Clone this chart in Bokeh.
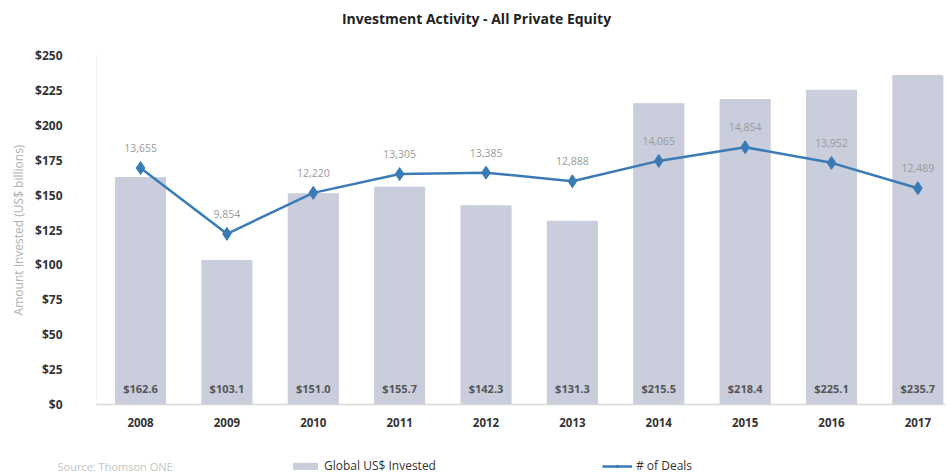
from bokeh.plotting import figure
from bokeh.models import (Range1d, FixedTicker, NumeralTickFormatter, Label, Legend,
                          LegendItem, ColumnDataSource)
from bokeh.layouts import column, row
from bokeh.core.properties import value
from bokeh.embed import file_html
from bokeh.resources import INLINE

years = [2008, 2009, 2010, 2011, 2012, 2013, 2014, 2015, 2016, 2017]
invested = [162.6, 103.1, 151.0, 155.7, 142.3, 131.3, 215.5, 218.4, 225.1, 235.7]
deals = [13655, 9854, 12220, 13305, 13385, 12888, 14065, 14854, 13952, 12489]
invested_labels = ["$162.6", "$103.1", "$151.0", "$155.7", "$142.3", "$131.3",
                   "$215.5", "$218.4", "$225.1", "$235.7"]
deal_labels = ["13,655", "9,854", "12,220", "13,305", "13,385", "12,888",
               "14,065", "14,854", "13,952", "12,489"]
y_ticks = [0, 25, 50, 75, 100, 125, 150, 175, 200, 225, 250]

FONT = "Open Sans"
BAR = "#c9cddc"
LINE = "#3b7bb5"
L, FW, R = 96, 849, 6
W = L + FW + R

# header strip with the title (data units == canvas pixels)
HH = 45
h = figure(frame_width=FW, frame_height=HH, output_backend="svg",
           toolbar_location=None, x_range=Range1d(L, L + FW), y_range=Range1d(0, HH),
           min_border_left=L, min_border_right=R, min_border_top=0, min_border_bottom=0,
           x_axis_location=None, y_axis_location=None, outline_line_color=None)
h.grid.visible = False
h.add_layout(Label(x=476, y=HH - 18, text="Investment Activity - All Private Equity",
                   text_align="center", text_baseline="middle", text_font=FONT,
                   text_font_size="14px", text_font_style="bold", text_color="#222222"))

src = ColumnDataSource(dict(x=years, inv=invested, deals=deals,
                            inv_lab=invested_labels, deal_lab=deal_labels,
                            zero=[0] * len(years)))

p = figure(frame_width=FW, frame_height=349, output_backend="svg", toolbar_location=None,
           x_range=Range1d(2007.49, 2017.32), y_range=Range1d(0, 250),
           min_border_left=L, min_border_right=R, min_border_top=10,
           min_border_bottom=32, outline_line_color=None)
p.extra_y_ranges = {"deals": Range1d(0, 20150)}

p.xgrid.visible = False
p.ygrid.visible = False

p.vbar(x="x", top="inv", width=0.58, source=src, color=BAR)
p.line(x="x", y="deals", source=src, y_range_name="deals", color=LINE, line_width=2.5)
p.scatter(x="x", y="deals", source=src, y_range_name="deals", marker="diamond",
          size=13, color=LINE)

p.text(x="x", y="deals", text="deal_lab", source=src, y_range_name="deals",
       y_offset=-20, text_align="center", text_baseline="middle",
       text_font=value(FONT), text_font_size="10.5px", text_color="#9a9a9a")
p.text(x="x", y="zero", text="inv_lab", source=src, y_offset=-16,
       text_align="center", text_baseline="middle", text_font=value(FONT),
       text_font_size="11px", text_font_style="bold", text_color="#555555")

# axes
p.yaxis.ticker = FixedTicker(ticks=y_ticks)
p.yaxis.formatter = NumeralTickFormatter(format="$0")
p.yaxis.major_tick_line_color = None
p.yaxis.minor_tick_line_color = None
p.yaxis.axis_line_color = "#e4e4e4"
p.yaxis.axis_line_dash = "2 2"
p.yaxis.major_label_standoff = 28
p.yaxis.major_label_text_font = FONT
p.yaxis.major_label_text_font_size = "12px"
p.yaxis.major_label_text_font_style = "bold"
p.yaxis.major_label_text_color = "#333333"
p.yaxis.axis_label = "Amount Invested (US$ billions)"
p.yaxis.axis_label_text_font = FONT
p.yaxis.axis_label_text_font_size = "12px"
p.yaxis.axis_label_text_font_style = "normal"
p.yaxis.axis_label_text_color = "#b0b0b0"
p.yaxis.axis_label_standoff = 5

p.xaxis.ticker = FixedTicker(ticks=years)
p.xaxis.major_tick_line_color = None
p.xaxis.minor_tick_line_color = None
p.xaxis.axis_line_color = "#d8d8d8"
p.xaxis.axis_line_width = 1.5
p.xaxis.major_label_standoff = 7
p.xaxis.major_label_text_font = FONT
p.xaxis.major_label_text_font_size = "11.5px"
p.xaxis.major_label_text_font_style = "bold"
p.xaxis.major_label_text_color = "#333333"

# footer strip: source note and legend, full-width frame (data units == pixels)
H2 = 39
f = figure(frame_width=W, frame_height=H2, output_backend="svg", toolbar_location=None,
           x_range=Range1d(0, W), y_range=Range1d(0, H2), min_border=0,
           x_axis_location=None, y_axis_location=None, outline_line_color=None)
f.grid.visible = False

legend_src = ColumnDataSource(dict(x=[-1000], y=[-1000], top=[-1000]))
r_bar = f.vbar(x="x", top="top", width=1, source=legend_src, color=BAR)
r_line = f.line(x="x", y="y", source=legend_src, color=LINE, line_width=2.5)
r_mk = f.scatter(x="x", y="y", source=legend_src, marker="diamond", size=9, color=LINE)

f.add_layout(Label(x=57, y=9, text="Source: Thomson ONE", text_align="left",
                   text_baseline="middle", text_font=FONT, text_font_size="11px",
                   text_color="#c4c4c4"))

legend = Legend(items=[LegendItem(label="Global US$ Invested", renderers=[r_bar]),
                       LegendItem(label="# of Deals", renderers=[r_line, r_mk])],
                orientation="horizontal", location=(290, 1), padding=0, margin=0,
                spacing=166, glyph_width=30, glyph_height=8, label_standoff=4,
                label_height=14, label_text_font=FONT, label_text_font_size="12px",
                label_text_color="#333333", label_text_baseline="middle",
                background_fill_alpha=0, border_line_alpha=0)
f.add_layout(legend, "center")

layout = column(h, p, row(f, spacing=0), spacing=0)
open("out.html", "w").write(file_html(layout, INLINE))
